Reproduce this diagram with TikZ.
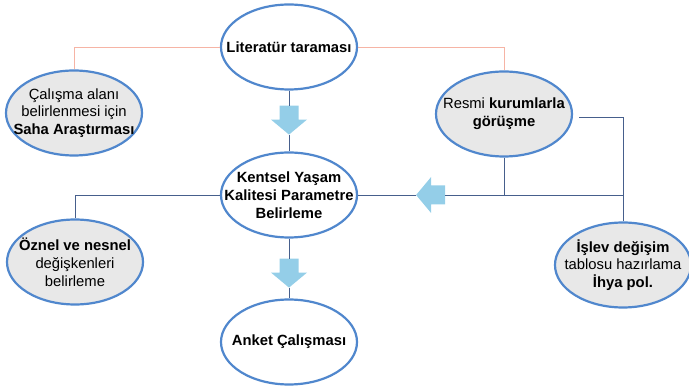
\documentclass[tikz,border=0pt]{standalone}
\usepackage{fontspec}
\setmainfont{Liberation Sans}
\usetikzlibrary{shapes, arrows.meta, positioning}
\definecolor{ringblue}{RGB}{80,135,205}
\definecolor{softgray}{RGB}{232,232,232}
\definecolor{arrowblue}{RGB}{148,206,232}
\definecolor{linkblue}{RGB}{70,95,140}
\definecolor{linkpink}{RGB}{246,180,165}
\tikzstyle{bubble} = [draw=ringblue, line width=2.2pt, ellipse, fill=white, minimum width=136pt, minimum height=85pt, inner xsep=-20pt, inner ysep=0pt, align=center, font=\fontsize{14.8}{17.8}\selectfont]
\tikzstyle{side} = [bubble, fill=softgray]
\tikzstyle{link} = [draw=linkblue, line width=0.8pt]
\tikzset{fatarrow/.pic={
  \fill[arrowblue] (0,-9.5pt) -- (14pt,-9.5pt) -- (14pt,-18pt) -- (29pt,0) -- (14pt,18pt) -- (14pt,9.5pt) -- (0,9.5pt) -- cycle;
  \coordinate (-tail) at (0,0);
  \coordinate (-tip) at (29pt,0);
}}

\begin{document}
\begin{tikzpicture}
  \useasboundingbox (0,0) rectangle (689pt,-390pt);
  \node[bubble] (lit) at (289pt,-47pt) {\textbf{Literatür taraması}};
  \node[bubble, below of=lit, node distance=148pt] (kent) {\textbf{Kentsel Yaşam}\\\textbf{Kalitesi Parametre}\\\textbf{Belirleme}};
  \node[bubble, below of=kent, node distance=147pt] (anket) {\textbf{Anket Çalışması}};
  \node[side, left of=lit, node distance=215pt, yshift=-66pt] (saha) {Çalışma alanı\\belirlenmesi için\\\textbf{Saha Araştırması}};
  \node[side, right of=lit, node distance=215pt, yshift=-67pt] (resmi) {Resmi \textbf{kurumlarla}\\\textbf{görüşme}};
  \node[side, left of=kent, node distance=214pt, yshift=-67pt] (oznel) {\textbf{Öznel ve nesnel}\\değişkenleri\\belirleme};
  \node[side, right of=kent, node distance=334pt, yshift=-70pt] (islev) {\textbf{İşlev değişim}\\tablosu hazırlama\\\textbf{İhya pol.}};
  \pic[rotate=-90] (a1) at ([yshift=-15pt]lit.south) {fatarrow};
  \pic[rotate=-90] (a2) at ([yshift=-20pt]kent.south) {fatarrow};
  \pic[rotate=180] (a3) at ([xshift=87pt]kent.east) {fatarrow};
  \coordinate (turn) at (islev.north |- kent.east);
  \draw[link, draw=linkpink] (lit.west) -| (saha.north);
  \draw[link, draw=linkpink] (lit.east) -| (resmi.north);
  \draw[link] (kent.west) -| (oznel.north);
  \draw[link] (lit.south) -- (a1-tail);
  \draw[link] (a1-tip) -- (kent.north);
  \draw[link] (kent.south) -- (a2-tail);
  \draw[link] (a2-tip) -- (anket.north);
  \draw[link] (kent.east) -- (a3-tip);
  \draw[link] (a3-tail) -- (turn);
  \draw[link] ([xshift=6pt,yshift=-3pt]resmi.east) -| (islev.north);
  \draw[link] (resmi.south) -- (resmi.south |- turn);
\end{tikzpicture}
\end{document}
